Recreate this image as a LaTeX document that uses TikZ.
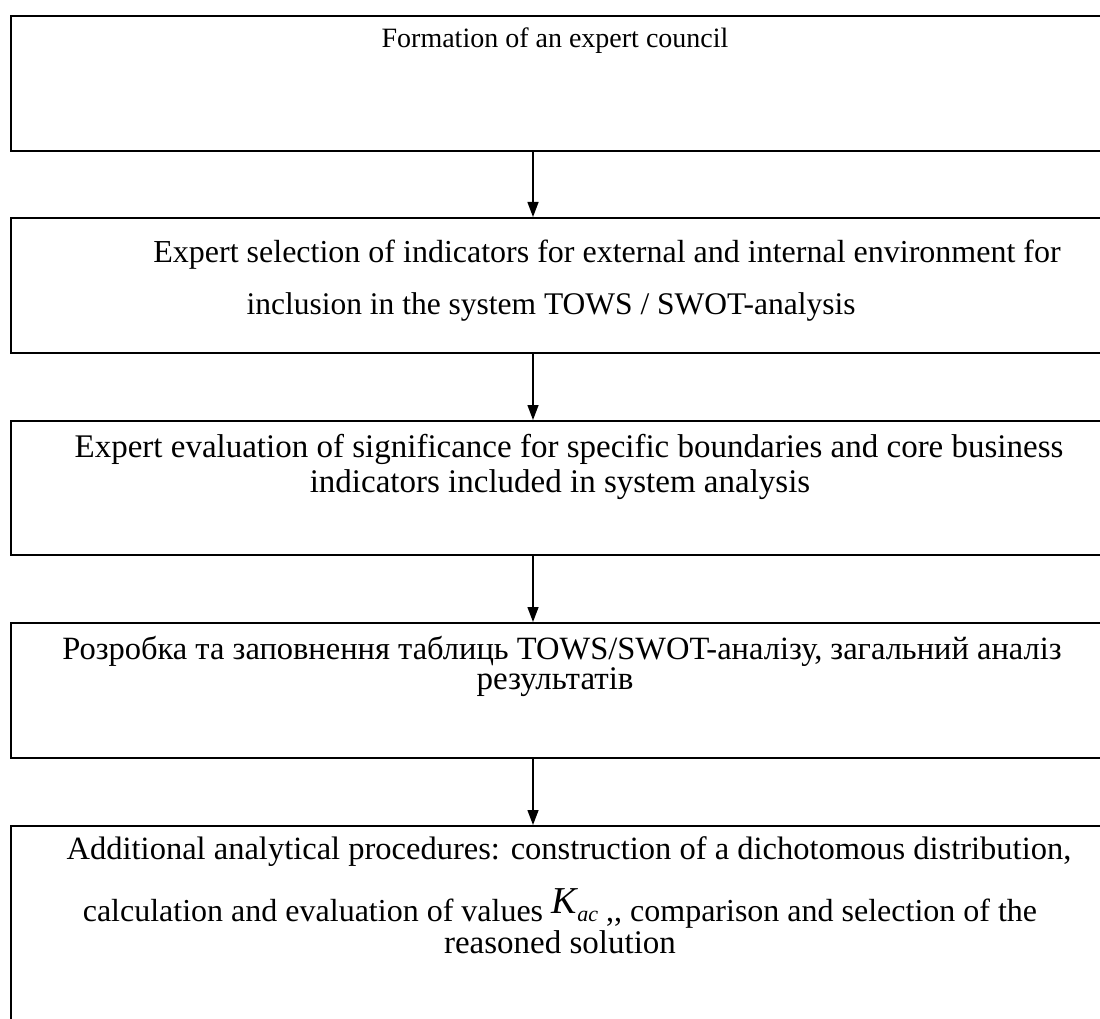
\documentclass[tikz,border=0pt]{standalone}
\usepackage{fontspec}
\setmainfont{Liberation Serif}
\usetikzlibrary{arrows.meta}
\newcommand\fsz[1]{\fontsize{#1}{38}\selectfont}
\begin{document}
\begin{tikzpicture}[x=1pt,y=-1pt,
  stage/.style={draw, line width=2pt, minimum width=1100pt, anchor=north west, inner sep=0pt},
  txt/.style={anchor=base, inner sep=0pt, font=\fsz{33}},
  flow/.style={-{Triangle[length=15pt,width=11pt]}, line width=1.4pt}]
\useasboundingbox (0,0) rectangle (1100,1019);
\clip (0,0) rectangle (1100,1019);
% stage frames
\node[stage, minimum height=135pt] (b1) at (10,15) {};
\node[stage, minimum height=135pt] (b2) at (10,217) {};
\node[stage, minimum height=134pt] (b3) at (10,420) {};
\node[stage, minimum height=135pt] (b4) at (10,622) {};
\node[stage, minimum height=230pt] (b5) at (10,825) {};
% vertical guide for the connectors
\coordinate (ax) at (533,0);
\draw[flow] (b1.south -| ax) -- (b2.north -| ax);
\draw[flow] (b2.south -| ax) -- (b3.north -| ax);
\draw[flow] (b3.south -| ax) -- (b4.north -| ax);
\draw[flow] (b4.south -| ax) -- (b5.north -| ax);
% stage texts
\node[txt, font=\fsz{28}] (t1) at (555,48) {Formation of an expert council};
\node[txt, font=\fsz{32}] (t2a) at (607,262) {Expert selection of indicators for external and internal environment for};
\node[txt, font=\fsz{31.5}] (t2b) at (551,314) {inclusion in the system TOWS / SWOT-analysis};
\node[txt] (t3a) at (569,457) {Expert evaluation of significance for specific boundaries and core business};
\node[txt] (t3b) at (560,492) {indicators included in system analysis};
\node[txt, font=\fsz{32.5}] (t4a) at (562,659) {Розробка та заповнення таблиць TOWS/SWOT-аналізу, загальний аналіз};
\node[txt] (t4b) at (555,689) {результатів};
\node[txt, font=\fsz{32.5}] (t5a) at (569,859) {Additional analytical procedures: construction of a dichotomous distribution,};
\node[txt, font=\fsz{32}] (t5b) at (560,921) {calculation and evaluation of values \raisebox{8pt}{\fontsize{38}{40}\selectfont\itshape K}\kern1pt{\fontsize{22}{24}\selectfont\itshape ac} {,}{,} comparison and selection of the};
\node[txt] (t5c) at (560,953) {reasoned solution};
\end{tikzpicture}
\end{document}
